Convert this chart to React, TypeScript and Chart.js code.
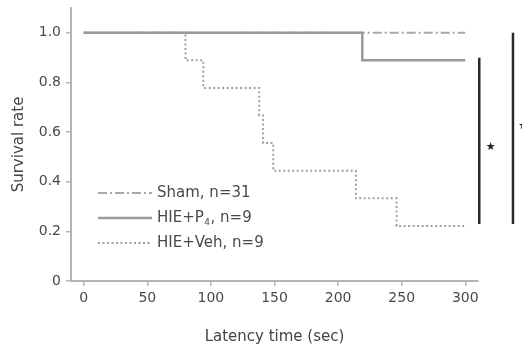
import React, { useEffect, useRef } from 'react';
import { Chart, registerables } from 'chart.js';

Chart.register(...registerables);

// ---- data ----
const SERIES_LABELS = ['Sham, n=31', 'HIE+P₄, n=9', 'HIE+Veh, n=9'];
const SHAM_TIMES = [0, 300];
const SHAM_SURV = [1.0, 1.0];
const P4_TIMES = [0, 219, 300];
const P4_SURV = [1.0, 0.889, 0.889];
const VEH_TIMES = [0, 80, 94, 138, 141, 149, 214, 246, 300];
const VEH_SURV = [1.0, 0.889, 0.778, 0.667, 0.556, 0.444, 0.333, 0.222, 0.222];
const X_TICKS = [0, 50, 100, 150, 200, 250, 300];
const Y_TICKS = [0, 0.2, 0.4, 0.6, 0.8, 1.0];
const X_TITLE = 'Latency time (sec)';
const Y_TITLE = 'Survival rate';
// significance brackets: x position (in sec units), top/bottom survival, marker
const SIG_X = [311, 337.5];
const SIG_TOP = [0.9, 1.0];
const SIG_BOTTOM = [0.23, 0.23];
const SIG_MARK = ['★', '★'];
const SIG_MARK_X = [320, 345.5];
const SIG_MARK_Y = [0.54, 0.625];

const FONT = "'DejaVu Sans', 'Liberation Sans', Arial, sans-serif";

const toPoints = (xs: number[], ys: number[]) => xs.map((x, i) => ({ x, y: ys[i] }));

const STYLES = [
  { color: '#a8a8a8', width: 2, dash: [9, 3, 2, 3] },
  { color: '#9a9a9a', width: 2.5, dash: [] as number[] },
  { color: '#a0a0a0', width: 2, dash: [2, 2.5] },
];

const legendPlugin = {
  id: 'insideLegend',
  afterDraw(chart: any) {
    const { ctx, chartArea } = chart;
    ctx.save();
    const rowsY = [193, 218, 243];
    for (let i = 0; i < 3; i++) {
      const st = STYLES[i];
      const y = rowsY[i];
      const x0 = chartArea.left + 27;
      const x1 = chartArea.left + 81;
      ctx.beginPath();
      ctx.strokeStyle = st.color;
      ctx.lineWidth = st.width;
      ctx.setLineDash(st.dash);
      ctx.moveTo(x0, y);
      ctx.lineTo(x1, y);
      ctx.stroke();
      ctx.setLineDash([]);
      // text, with subscript support for "₄"
      let tx = chartArea.left + 86;
      ctx.fillStyle = '#4a4a4a';
      ctx.textBaseline = 'middle';
      ctx.textAlign = 'left';
      const parts = SERIES_LABELS[i].split('₄');
      parts.forEach((p, k) => {
        ctx.font = `15px ${FONT}`;
        ctx.fillText(p, tx, y);
        tx += ctx.measureText(p).width;
        if (k < parts.length - 1) {
          ctx.font = `9px ${FONT}`;
          ctx.fillText('4', tx + 0.5, y + 5);
          tx += ctx.measureText('4').width + 1;
        }
      });
    }
    ctx.restore();
  },
};

const sigMarkPlugin = {
  id: 'sigMarks',
  afterDraw(chart: any) {
    const { ctx, scales } = chart;
    ctx.save();
    ctx.fillStyle = '#222';
    ctx.font = `11px ${FONT}`;
    ctx.textAlign = 'center';
    ctx.textBaseline = 'middle';
    SIG_MARK.forEach((m, i) => {
      ctx.fillText(m, scales.x.getPixelForValue(SIG_MARK_X[i]), scales.y.getPixelForValue(SIG_MARK_Y[i]));
    });
    ctx.restore();
  },
};

export default function App() {
  const ref = useRef<HTMLCanvasElement | null>(null);
  useEffect(() => {
    if (!ref.current) return;
    const lineData = [
      toPoints(SHAM_TIMES, SHAM_SURV),
      toPoints(P4_TIMES, P4_SURV),
      toPoints(VEH_TIMES, VEH_SURV),
    ];
    const datasets: any[] = lineData.map((d, i) => ({
      label: SERIES_LABELS[i],
      data: d,
      borderColor: STYLES[i].color,
      borderWidth: STYLES[i].width,
      borderDash: STYLES[i].dash,
      stepped: 'before',
      pointRadius: 0,
      fill: false,
      order: i === 0 ? 1 : 0,
    }));
    SIG_X.forEach((x, i) => {
      datasets.push({
        label: 'sig' + i,
        data: [
          { x, y: SIG_TOP[i] },
          { x, y: SIG_BOTTOM[i] },
        ],
        borderColor: '#2a2a2a',
        borderWidth: 2.5,
        pointRadius: 0,
        clip: false,
        fill: false,
      });
    });
    const chart = new Chart(ref.current, {
      type: 'line',
      data: { datasets },
      plugins: [legendPlugin, sigMarkPlugin],
      options: {
        animation: false,
        responsive: true,
        maintainAspectRatio: false,
        layout: { padding: { left: 0, right: 44, top: 8, bottom: 0 } },
        plugins: { legend: { display: false }, tooltip: { enabled: false } },
        scales: {
          x: {
            type: 'linear',
            min: -10,
            max: 310,
            afterBuildTicks: (s: any) => {
              s.ticks = X_TICKS.map((v) => ({ value: v }));
            },
            afterFit: (s: any) => {
              s.height = 65;
              s.paddingLeft = 0;
              s.paddingRight = 0;
            },
            grid: { drawOnChartArea: false, drawTicks: true, tickLength: 5, color: '#b5b5b5', lineWidth: 1.5 },
            border: { display: true, color: '#b5b5b5', width: 2 },
            ticks: {
              font: { family: FONT, size: 14 },
              color: '#4a4a4a',
              padding: 4,
              maxRotation: 0,
              callback: (v: any) => String(v),
            },
            title: {
              display: true,
              text: X_TITLE,
              font: { family: FONT, size: 15 },
              color: '#444',
              padding: { top: 0, bottom: 0 },
            },
          },
          y: {
            type: 'linear',
            min: 0,
            max: 1.1,
            afterBuildTicks: (s: any) => {
              s.ticks = Y_TICKS.map((v) => ({ value: v }));
            },
            afterFit: (s: any) => {
              s.width = 71;
              s.paddingTop = 0;
              s.paddingBottom = 0;
            },
            grid: { drawOnChartArea: false, drawTicks: true, tickLength: 5, color: '#b5b5b5', lineWidth: 1.5 },
            border: { display: true, color: '#b5b5b5', width: 2 },
            ticks: {
              font: { family: FONT, size: 14 },
              color: '#4a4a4a',
              padding: 5,
              callback: (v: any) => (v === 0 ? '0' : Number(v).toFixed(1)),
            },
            title: {
              display: true,
              text: Y_TITLE,
              font: { family: FONT, size: 15 },
              color: '#444',
              padding: { top: 10, bottom: 0 },
            },
          },
        },
      },
    });
    return () => chart.destroy();
  }, []);
  return (
    <div style={{ position: 'absolute', left: 0, top: 0, width: 522, height: 346 }}>
      <canvas ref={ref} />
    </div>
  );
}
